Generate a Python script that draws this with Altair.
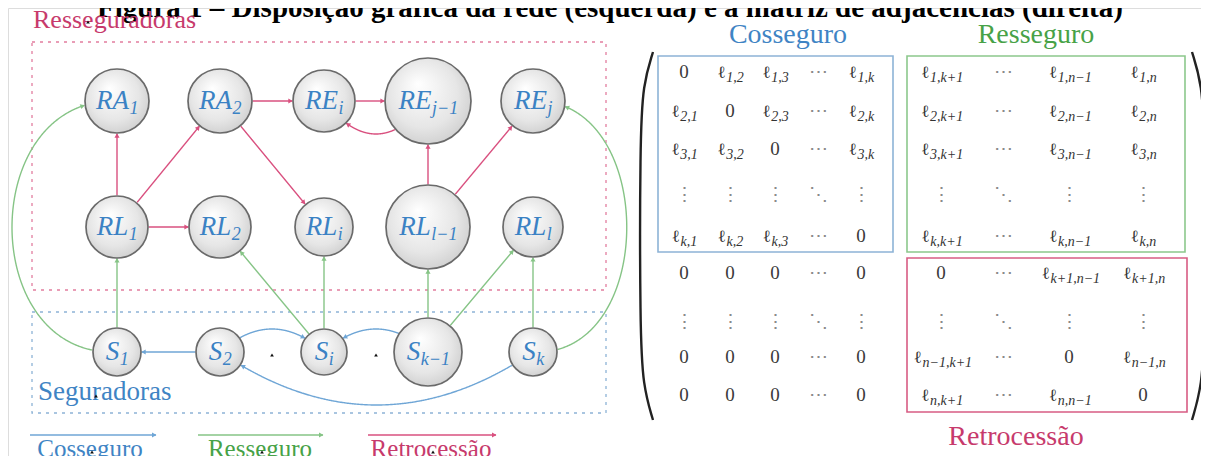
import math
import altair as alt
import pandas as pd

# ------------------------------------------------------------------ data
title_text = "Figura 1 – Disposição gráfica da rede (esquerda) e a matriz de adjacências (direita)"

node_ids = ["RA1", "RA2", "REi", "REj-1", "REj",
            "RL1", "RL2", "RLi", "RLl-1", "RLl",
            "S1", "S2", "Si", "Sk-1", "Sk"]
node_main = ["RA", "RA", "RE", "RE", "RE",
             "RL", "RL", "RL", "RL", "RL",
             "S", "S", "S", "S", "S"]
node_sub = ["1", "2", "i", "j−1", "j",
            "1", "2", "i", "l−1", "l",
            "1", "2", "i", "k−1", "k"]
node_x = [117, 220, 324, 428, 533] * 3
node_y = [101] * 5 + [227] * 5 + [352] * 5
node_r = [32, 32, 31, 43, 32,
          31, 31, 29, 42, 30,
          24, 24, 23, 34, 24]

edge_src = ["RL1", "RL1", "RA2", "RA2", "REi", "REj-1", "RL1", "RLl-1", "RLl-1",
            "S1", "Si", "Si", "Sk-1", "Sk-1", "Sk", "S1", "Sk",
            "S2", "S2", "Sk-1", "Sk"]
edge_dst = ["RA1", "RA2", "REi", "RLi", "REj-1", "REi", "RL2", "REj-1", "REj",
            "RL1", "RL2", "RLi", "RLl-1", "RLl", "RLl", "RA1", "REj",
            "S1", "Si", "Si", "S2"]
edge_kind = ["Retrocessão"] * 9 + ["Resseguro"] * 8 + ["Cosseguro"] * 4
edge_shape = ["line"] * 5 + ["arc"] + ["line"] * 3 + ["line"] * 6 + ["loop", "loop"] + ["line", "arc", "arc", "arc"]
edge_bend = [0, 0, 0, 0, 0, -66, 0, 0, 0,
             0, 0, 0, 0, 0, 0, -140, 125,
             0, -46, 46, -106]

kinds = ["Cosseguro", "Resseguro", "Retrocessão"]
kind_line_colors = ["#6fa6d6", "#86c486", "#d9507f"]
kind_text_colors = ["#3f84c4", "#47a247", "#c73a6c"]

legend_x0 = [30, 198, 368]
legend_x1 = [156, 323, 496]

mat_rows = [
    ["0", "ℓ1,2", "ℓ1,3", "⋯", "ℓ1,k", "ℓ1,k+1", "⋯", "ℓ1,n−1", "ℓ1,n"],
    ["ℓ2,1", "0", "ℓ2,3", "⋯", "ℓ2,k", "ℓ2,k+1", "⋯", "ℓ2,n−1", "ℓ2,n"],
    ["ℓ3,1", "ℓ3,2", "0", "⋯", "ℓ3,k", "ℓ3,k+1", "⋯", "ℓ3,n−1", "ℓ3,n"],
    ["⋮", "⋮", "⋮", "⋱", "⋮", "⋮", "⋱", "⋮", "⋮"],
    ["ℓk,1", "ℓk,2", "ℓk,3", "⋯", "0", "ℓk,k+1", "⋯", "ℓk,n−1", "ℓk,n"],
    ["0", "0", "0", "⋯", "0", "0", "⋯", "ℓk+1,n−1", "ℓk+1,n"],
    ["⋮", "⋮", "⋮", "⋱", "⋮", "⋮", "⋱", "⋮", "⋮"],
    ["0", "0", "0", "⋯", "0", "ℓn−1,k+1", "⋯", "0", "ℓn−1,n"],
    ["0", "0", "0", "⋯", "0", "ℓn,k+1", "⋯", "ℓn,n−1", "0"],
]
mat_col_x = [684, 730, 775, 818, 861, 941, 1003, 1069, 1143]
mat_row_y = [72, 111, 149, 195, 236, 273, 322, 357, 395]

SERIF = "Liberation Serif"

# ------------------------------------------------------------------ scales
W, H = 1193, 448
XS = alt.Scale(domain=[8, 8 + W], nice=False, zero=False)
YS = alt.Scale(domain=[8, 8 + H], nice=False, zero=False, reverse=True)


def X(f="x"):
    return alt.X(f"{f}:Q", scale=XS, axis=None)


def Y(f="y"):
    return alt.Y(f"{f}:Q", scale=YS, axis=None)


# ------------------------------------------------------------------ geometry helpers
nodes = {n: (x, y, r) for n, x, y, r in zip(node_ids, node_x, node_y, node_r)}


def bez(pts, t):
    p = list(pts)
    while len(p) > 1:
        p = [((1 - t) * a[0] + t * b[0], (1 - t) * a[1] + t * b[1]) for a, b in zip(p[:-1], p[1:])]
    return p[0]


line_rows, arrow_rows = [], []
for i, (s, d, k, shp, b) in enumerate(zip(edge_src, edge_dst, edge_kind, edge_shape, edge_bend)):
    sx, sy, sr = nodes[s]
    dx_, dy_, dr = nodes[d]
    if shp == "line":
        pts = [(sx, sy), (dx_, dy_)]
    elif shp == "arc":
        mx, my = (sx + dx_) / 2, (sy + dy_) / 2
        L = math.hypot(dx_ - sx, dy_ - sy)
        nx, ny = -(dy_ - sy) / L, (dx_ - sx) / L
        pts = [(sx, sy), (mx + b * nx, my + b * ny), (dx_, dy_)]
    else:
        pts = [(sx, sy), (sx + b, sy + 6), (dx_ + b, dy_ - 4), (dx_, dy_)]
    kept = []
    N = 400
    for j in range(N + 1):
        px, py = bez(pts, j / N)
        if math.hypot(px - sx, py - sy) > sr + 0.5 and math.hypot(px - dx_, py - dy_) > dr + 0.5:
            kept.append((px, py))
    for o, (px, py) in enumerate(kept):
        line_rows.append({"x": px, "y": py, "eid": f"e{i}", "kind": k, "ord": o})
    tx, ty = kept[-1]
    qx, qy = kept[-6]
    ux, uy = tx - qx, ty - qy
    L = math.hypot(ux, uy)
    ux, uy = ux / L, uy / L
    ang = math.degrees(math.atan2(ux, -uy)) % 360
    arrow_rows.append({"x": tx - 2.5 * ux, "y": ty - 2.5 * uy, "kind": k, "ang": ang})

for k, x0, x1 in zip(kinds, legend_x0, legend_x1):
    line_rows.append({"x": x0, "y": 435, "eid": "lg" + k, "kind": k, "ord": 0})
    line_rows.append({"x": x1, "y": 435, "eid": "lg" + k, "kind": k, "ord": 1})
    arrow_rows.append({"x": x1 - 2.5, "y": 435, "kind": k, "ang": 90})

lines_df = pd.DataFrame(line_rows)
arrows_df = pd.DataFrame(arrow_rows)

kind_color = alt.Color("kind:N", scale=alt.Scale(domain=kinds, range=kind_line_colors), legend=None)

edges = alt.Chart(lines_df).mark_line(strokeWidth=1.4, interpolate="linear").encode(
    x=X(), y=Y(), detail="eid:N", order="ord:Q", color=kind_color)

heads = alt.Chart(arrows_df).mark_point(shape="triangle", filled=True, size=26, opacity=1).encode(
    x=X(), y=Y(), color=kind_color, angle=alt.Angle("ang:Q", scale=None))

# ------------------------------------------------------------------ nodes
nodes_df = pd.DataFrame({"id": node_ids, "x": node_x, "y": node_y,
                         "size": [(2 * r) ** 2 for r in node_r]})
grad = {"gradient": "radial", "x1": 0.38, "y1": 0.3, "r1": 0.0,
        "x2": 0.5, "y2": 0.5, "r2": 0.72,
        "stops": [{"offset": 0, "color": "#ffffff"},
                  {"offset": 0.55, "color": "#e6e6e6"},
                  {"offset": 1, "color": "#bdbdbd"}]}
circles = alt.Chart(nodes_df).mark_point(shape="circle", filled=True, fill=grad, stroke="#6a6a6a",
                                         strokeWidth=1.7, opacity=1, fillOpacity=1).encode(
    x=X(), y=Y(), size=alt.Size("size:Q", scale=None))

cw_main = {"R": 16.5, "A": 16.5, "E": 16.5, "L": 15, "S": 13.5}
cw_sub = {"1": 9, "2": 9, "i": 5, "j": 5, "l": 5, "k": 8, "−": 12}
lab_rows, sub_rows = [], []
for n, m, sb, x, y in zip(node_ids, node_main, node_sub, node_x, node_y):
    wm = sum(cw_main[c] for c in m)
    ws = sum(cw_sub[c] for c in sb)
    x0 = x - (wm + ws) / 2 + wm
    lab_rows.append({"t": m, "x": x0, "y": y + 8})
    sub_rows.append({"t": sb, "x": x0 + 0.5, "y": y + 13})

node_main_txt = alt.Chart(pd.DataFrame(lab_rows)).mark_text(
    align="right", baseline="alphabetic", font=SERIF, fontStyle="italic",
    fontSize=27, color="#3b82c4").encode(x=X(), y=Y(), text="t:N")
node_sub_txt = alt.Chart(pd.DataFrame(sub_rows)).mark_text(
    align="left", baseline="alphabetic", font=SERIF, fontStyle="italic",
    fontSize=18, color="#3b82c4").encode(x=X(), y=Y(), text="t:N")

# ------------------------------------------------------------------ boxes
dash_df = pd.DataFrame({"x": [32, 32], "x2": [606, 606], "y": [42, 312], "y2": [290, 413],
                        "c": ["#e27d9f", "#8db3d6"]})
dash_boxes = alt.Chart(dash_df).mark_rect(fillOpacity=0, strokeWidth=1.3, strokeDash=[3, 5]).encode(
    x=X(), x2="x2:Q", y=Y(), y2="y2:Q", stroke=alt.Stroke("c:N", scale=None))

mbox_df = pd.DataFrame({"x": [658, 907, 907], "x2": [893, 1185, 1187], "y": [56, 56, 258],
                        "y2": [252, 252, 412], "c": ["#8db3d6", "#8cc88c", "#d85c84"]})
mat_boxes = alt.Chart(mbox_df).mark_rect(fillOpacity=0, strokeWidth=1.6).encode(
    x=X(), x2="x2:Q", y=Y(), y2="y2:Q", stroke=alt.Stroke("c:N", scale=None))

par_rows = []
lp = [(653, 52), (643, 84), (640, 140), (640, 330), (643, 386), (653, 420)]
for o, (px, py) in enumerate(lp):
    par_rows.append({"x": px, "y": py, "p": "L", "ord": o})
    par_rows.append({"x": 1845 - px, "y": py, "p": "R", "ord": o})
parens = alt.Chart(pd.DataFrame(par_rows)).mark_line(interpolate="basis", strokeWidth=2.4, color="#222222").encode(
    x=X(), y=Y(), detail="p:N", order="ord:Q")

# ------------------------------------------------------------------ matrix text
plain_rows, ell_rows, msub_rows = [], [], []
sub_w = {",": 3.5, "+": 8, "−": 8, "1": 7, "2": 7, "3": 7, "k": 6.5, "n": 7}
for ri, row in enumerate(mat_rows):
    for ci, cell in enumerate(row):
        cx, cy = mat_col_x[ci], mat_row_y[ri]
        if cell.startswith("ℓ"):
            sb = cell[1:]
            ws = sum(sub_w.get(c, 7) for c in sb)
            wl = 9
            x0 = cx - (wl + ws) / 2 + wl
            ell_rows.append({"t": "ℓ", "x": x0, "y": cy + 6})
            msub_rows.append({"t": sb, "x": x0 + 0.5, "y": cy + 10})
        elif cell == "0":
            plain_rows.append({"t": cell, "x": cx, "y": cy + 6, "c": "#3a3a3a"})
        else:
            plain_rows.append({"t": cell, "x": cx, "y": cy + 6, "c": "#8a8a8a"})

mat_plain = alt.Chart(pd.DataFrame(plain_rows)).mark_text(
    align="center", baseline="alphabetic", font=SERIF, fontSize=19).encode(
    x=X(), y=Y(), text="t:N", color=alt.Color("c:N", scale=None))
mat_ell = alt.Chart(pd.DataFrame(ell_rows)).mark_text(
    align="right", baseline="alphabetic", font="DejaVu Serif", fontSize=17,
    color="#333333").encode(x=X(), y=Y(), text="t:N")
mat_sub = alt.Chart(pd.DataFrame(msub_rows)).mark_text(
    align="left", baseline="alphabetic", font=SERIF, fontStyle="italic", fontSize=14,
    color="#333333").encode(x=X(), y=Y(), text="t:N")

# ------------------------------------------------------------------ labels
left_lbl = pd.DataFrame({"t": ["Resseguradoras", "Seguradoras"], "x": [33, 38], "y": [28, 400],
                         "c": [kind_text_colors[2], kind_text_colors[0]], "s": [26, 27]})
center_lbl = pd.DataFrame({
    "t": ["Cosseguro", "Resseguro", "Retrocessão", "Cosseguro", "Resseguro", "Retrocessão"],
    "x": [788, 1036, 1016, 90, 260, 431],
    "y": [43, 43, 445, 457, 457, 457],
    "c": [kind_text_colors[0], kind_text_colors[1], kind_text_colors[2]] * 2,
    "s": [28, 28, 28, 25, 25, 25]})
txt_left = alt.Chart(left_lbl).mark_text(align="left", baseline="alphabetic", font=SERIF).encode(
    x=X(), y=Y(), text="t:N", color=alt.Color("c:N", scale=None), size=alt.Size("s:Q", scale=None))
txt_center = alt.Chart(center_lbl).mark_text(align="center", baseline="alphabetic", font=SERIF).encode(
    x=X(), y=Y(), text="t:N", color=alt.Color("c:N", scale=None), size=alt.Size("s:Q", scale=None))

title = alt.Chart(pd.DataFrame({"t": [title_text], "x": [610], "y": [17]})).mark_text(
    align="center", baseline="alphabetic", font=SERIF, fontWeight="bold", fontSize=29,
    color="#000000").encode(x=X(), y=Y(), text="t:N")

marks_df = pd.DataFrame({"x": [272, 376, 88, 96, 92, 262, 433], "y": [355, 355, 22, 396, 452, 452, 452]})
specks = alt.Chart(marks_df).mark_point(shape="triangle-up", filled=True, size=14, color="#111111", opacity=1).encode(
    x=X(), y=Y())

chart = alt.layer(
    dash_boxes, mat_boxes, parens, edges, heads, circles, node_main_txt, node_sub_txt,
    mat_plain, mat_ell, mat_sub, title, txt_left, txt_center, specks
).properties(width=W, height=H, padding=0, autosize=alt.AutoSizeParams(type="none")).configure_view(
    stroke=None).configure(background="#ffffff")

chart.save("out.html", embed_options={"renderer": "svg", "actions": False})
